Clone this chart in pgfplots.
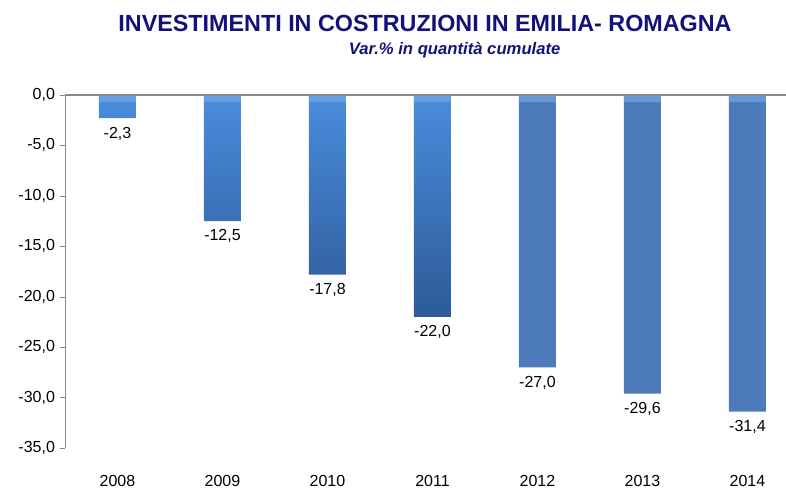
\documentclass[border=0pt]{standalone}
\usepackage{pgfplots}
\pgfplotsset{compat=1.18}
\usepackage{fontspec}
\setmainfont{Liberation Sans}
\definecolor{navytitle}{RGB}{18,18,122}
\definecolor{topA}{RGB}{74,140,220}
\definecolor{botA}{RGB}{46,90,152}
\definecolor{midB}{RGB}{92,142,208}
\definecolor{edgeB}{RGB}{76,122,186}
\definecolor{hiband}{RGB}{120,172,235}
\definecolor{axgray}{RGB}{136,136,136}
\begin{document}
\begin{tikzpicture}
\begin{axis}[
  at={(48.75pt,35.25pt)}, anchor=south west,
  scale only axis, width=540.75pt, height=264.75pt,
  xmin=-0.5, xmax=6.367, ymin=-35, ymax=0,
  clip=false,
  axis y line=left, axis x line=bottom,
  x axis line style={draw=none},
  y axis line style={draw=axgray, -},
  ytick={-35,-30,...,0},
  ytick style={draw=axgray},
  tick align=outside, major tick length=4pt,
  xtick={0,1,2,3,4,5,6},
  xticklabels={2008,2009,2010,2011,2012,2013,2014},
  xtick style={draw=none},
  xticklabel style={inner sep=0pt, yshift=-16pt, font=\fontsize{12}{14}\selectfont},
  yticklabel style={font=\fontsize{12}{14}\selectfont, /pgf/number format/.cd, fixed, fixed zerofill, precision=1, use comma, assume math mode=true},
  ybar, bar width=27.75pt, bar shift=0pt,
  every node near coord/.append style={anchor=north, yshift=-3pt, text=black, font=\fontsize{12}{14}\selectfont, /pgf/number format/.cd, fixed, fixed zerofill, precision=1, use comma, assume math mode=true},
]
\addplot[draw=none, top color=topA, bottom color=botA, nodes near coords]
  coordinates {(0,-2.3) (1,-12.5) (2,-17.8) (3,-22.0)};
\addplot[draw=none, left color=edgeB, middle color=midB, right color=edgeB, nodes near coords]
  coordinates {(4,-27.0) (5,-29.6) (6,-31.4)};
\addplot[draw=none, fill=hiband, fill opacity=0.6]
  coordinates {(0,-0.7) (1,-0.7) (2,-0.7) (3,-0.7) (4,-0.7) (5,-0.7) (6,-0.7)};
\draw[axgray, line width=1.6pt] (axis cs:-0.5,0) -- (axis cs:6.367,0);
\end{axis}
\node[text=navytitle, font=\fontsize{17.5}{20}\selectfont\bfseries] at (318.75pt,354pt) {INVESTIMENTI IN COSTRUZIONI IN EMILIA- ROMAGNA};
\node[text=navytitle, font=\fontsize{12.5}{15}\selectfont\bfseries\itshape] at (341pt,334pt) {Var.\% in quantità cumulate};
\pgfresetboundingbox
\path (0,0) rectangle (589.5pt,371.25pt);
\end{tikzpicture}
\end{document}
